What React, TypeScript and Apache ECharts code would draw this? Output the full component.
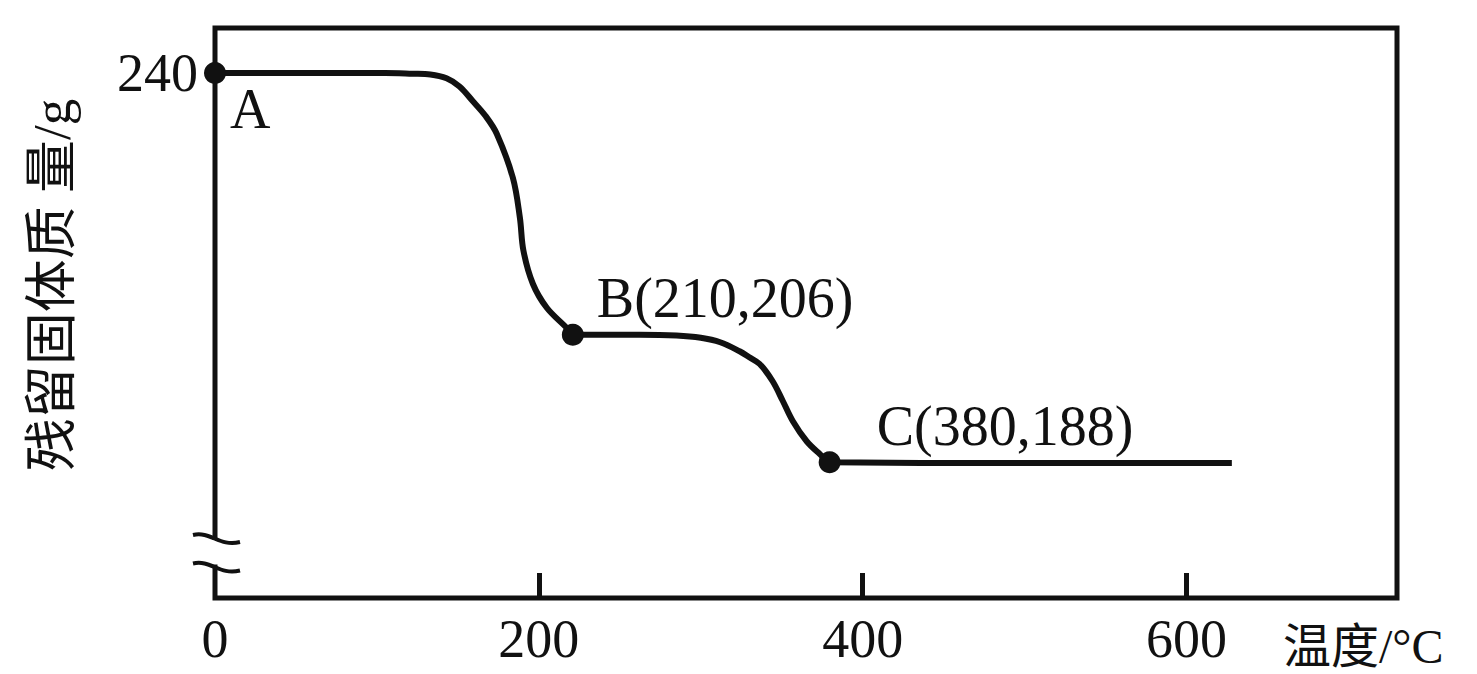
import React, { useEffect, useRef } from 'react';
import * as echarts from 'echarts';

// ---- data ----
const xTicks = [0, 200, 400, 600];
const xTickMarks = [200, 400, 600];
const yTicks = [240];

const curveX = [0, 60, 105, 122, 133, 143, 151, 159, 167, 174, 184, 188.3, 190.5, 196.3, 204.9, 217.3, 221, 262, 285, 300, 312, 324, 330, 336.4, 344.4, 350.6, 356.8, 365.4, 373.5, 379.6, 500, 628];
const curveY = [240, 240, 240, 239.9, 239.8, 239.3, 238.2, 236.3, 234.3, 231.9, 226, 220.7, 216.3, 211.9, 208.7, 206, 205.1, 205.1, 205.0, 204.7, 204.1, 202.9, 202.1, 201.2, 198.9, 196.3, 193.6, 190.9, 189.2, 188.1, 188, 188];

const pointNames = ['A', 'B(210,206)', 'C(380,188)'];
const pointX = [0, 221, 379.6];
const pointY = [240, 205.1, 188.1];

const xTitle = '温度/°C';
const yTitle = '残留固体质 量/g';
const breakUpper = 178;
const breakLower = 174.2;

const labelOffsets: [number, number][] = [[26, 47], [35, -26], [58, -25]];

export default function App() {
  const ref = useRef<HTMLDivElement>(null);
  useEffect(() => {
    document.body.style.margin = '0';
    const chart = echarts.init(ref.current!, null, { renderer: 'svg' });
    const serif = '"Liberation Serif", "Times New Roman", "Noto Sans CJK SC", serif';
    const ink = '#111';
    const option: any = {
      animation: false,
      backgroundColor: '#fff',
      grid: {
        left: 215, right: 80, top: 28, bottom: 76,
        show: true, borderColor: ink, borderWidth: 5, backgroundColor: 'transparent',
      },
      xAxis: {
        type: 'value', min: 0, max: 730,
        axisLine: { show: false },
        splitLine: { show: false },
        axisTick: { show: true, inside: true, length: 25, lineStyle: { color: ink, width: 5 }, customValues: xTickMarks },
        axisLabel: { customValues: xTicks, color: ink, fontFamily: serif, fontSize: 54, margin: 14 },
      },
      yAxis: {
        type: 'value', min: 170, max: 246,
        axisLine: { show: false },
        splitLine: { show: false },
        axisTick: { show: false },
        axisLabel: { customValues: yTicks, color: ink, fontFamily: serif, fontSize: 54, margin: 17 },
      },
      series: [
        {
          type: 'line',
          data: curveX.map((x, i) => [x, curveY[i]]),
          smooth: 0.35,
          showSymbol: false,
          lineStyle: { color: ink, width: 6 },
          z: 3,
        },
        {
          type: 'scatter',
          symbolSize: 22,
          itemStyle: { color: ink, opacity: 1 },
          z: 4,
          label: {
            show: true, color: ink, opacity: 1, fontFamily: serif, fontSize: 56,
            align: 'left', verticalAlign: 'middle',
          },
          data: pointX.map((x, i) => ({
            value: [x, pointY[i]],
            label: { formatter: pointNames[i], position: labelOffsets[i] },
          })),
        },
      ],
    };
    chart.setOption(option);

    const [ax, yU] = chart.convertToPixel({ gridIndex: 0 } as any, [0, breakUpper]) as number[];
    const [, yL] = chart.convertToPixel({ gridIndex: 0 } as any, [0, breakLower]) as number[];
    const tilde = (y: number) => ({
      type: 'bezierCurve',
      shape: { x1: ax - 22, y1: y - 3, cpx1: ax - 4, cpy1: y - 7, cpx2: ax + 4, cpy2: y + 9, x2: ax + 25, y2: y + 4 },
      style: { stroke: ink, lineWidth: 4, fill: 'none' },
      z: 10,
    });
    chart.setOption({
      graphic: [
        { type: 'rect', shape: { x: ax - 8, y: yU + 2, width: 16, height: yL - yU - 4 }, style: { fill: '#fff' }, z: 9 },
        tilde(yU),
        tilde(yL),
        {
          type: 'text', x: 52, y: 285, rotation: Math.PI / 2,
          style: {
            text: yTitle, fill: ink, font: `53px "Liberation Serif", "Noto Sans CJK SC"`,
            align: 'center', verticalAlign: 'middle', textAlign: 'center', textVerticalAlign: 'middle',
          },
        },
        {
          type: 'text', x: 1283, y: 646,
          style: {
            text: xTitle, fill: ink, font: `48px "Liberation Serif", "Noto Sans CJK SC"`,
            align: 'left', verticalAlign: 'middle', textAlign: 'left', textVerticalAlign: 'middle',
          },
        },
      ],
    });
    return () => chart.dispose();
  }, []);
  return <div ref={ref} style={{ position: 'fixed', left: 0, top: 0, width: 1477, height: 674 }} />;
}
